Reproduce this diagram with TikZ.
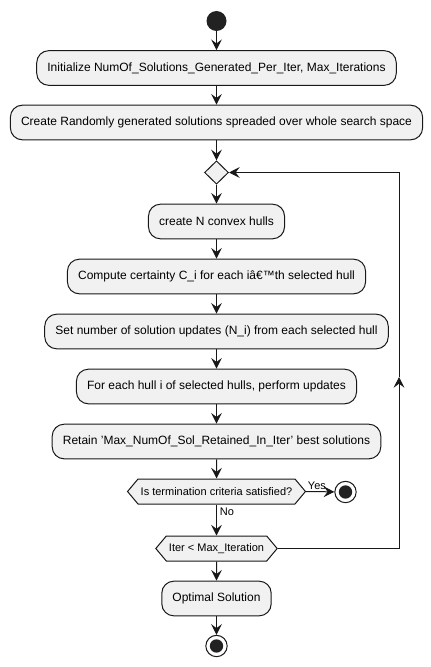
\documentclass[tikz,border=0pt]{standalone}
\usepackage{fontspec}
\setmainfont{Liberation Sans}
\usetikzlibrary{shapes.geometric,shapes.symbols,arrows.meta}

\definecolor{actfill}{HTML}{F1F1F1}
\definecolor{actline}{HTML}{181818}
\definecolor{dotfill}{HTML}{222222}

\tikzset{every picture/.style={line width=0.75pt}}
\tikzset{
	act/.style={draw=actline, fill=actfill, rounded corners=9pt, minimum height=26pt, inner xsep=8pt, font=\fontsize{9}{11}\selectfont},
	hexa/.style={draw=actline, fill=actfill, signal, signal to=west and east, signal pointer angle=100, minimum height=18.75pt, inner xsep=2pt, inner ysep=1pt, font=\fontsize{8.25}{10}\selectfont},
	merge/.style={draw=actline, fill=actfill, diamond, inner sep=0pt, minimum width=18pt, minimum height=17.5pt},
	startdot/.style={circle, fill=dotfill, inner sep=0pt, minimum size=15pt},
	stopdot/.style={circle, draw=actline, fill=white, inner sep=0pt, minimum size=16pt, path picture={\fill[dotfill] (path picture bounding box.center) circle (5pt);}},
	flow/.style={draw=actline, -{Stealth[length=8pt, width=8pt, inset=3pt]}},
	lbl/.style={font=\fontsize{8.25}{10}\selectfont, inner sep=1pt}
}

\begin{document}
\begin{tikzpicture}[x=0.75pt,y=0.75pt,yscale=-1,xscale=1]
	\useasboundingbox (0,0) rectangle (431,667);

	%Shape: Circle [start]
	\node [startdot] (start) at (216.5,21) {};
	%Shape: Rectangle [init]
	\node [act] (init) at (216.5,68) {Initialize NumOf\_Solutions\_Generated\_Per\_Iter, Max\_Iterations};
	%Shape: Rectangle [rand]
	\node [act] (rand) at (216.5,122.5) {Create Randomly generated solutions spreaded over whole search space};
	%Shape: Diamond [loop]
	\node [merge] (loop) at (216.5,172.5) {};
	%Shape: Rectangle [hulls]
	\node [act] (hulls) at (216.5,221.5) {create N convex hulls};
	%Shape: Rectangle [cert]
	\node [act] (cert) at (216.5,276.5) {Compute certainty C\_i for each iâ€™th selected hull};
	%Shape: Rectangle [setn]
	\node [act] (setn) at (216.5,331.5) {Set number of solution updates (N\_i) from each selected hull};
	%Shape: Rectangle [each]
	\node [act] (each) at (216.5,386.5) {For each hull i of selected hulls, perform updates};
	%Shape: Rectangle [keep]
	\node [act] (keep) at (216.5,441.5) {Retain 'Max\_NumOf\_Sol\_Retained\_In\_Iter' best solutions};
	%Shape: Hexagon [term]
	\node [hexa] (term) at (216.5,491.5) {Is termination criteria satisfied?};
	%Shape: Circle [stop1]
	\node [stopdot] (stop1) at (345.5,492) {};
	%Shape: Hexagon [iter]
	\node [hexa] (iter) at (216.5,548.5) {Iter < Max\_Iteration};
	%Shape: Rectangle [best]
	\node [act] (best) at (216.5,598.5) {Optimal Solution};
	%Shape: Circle [stop2]
	\node [stopdot] (stop2) at (216.5,646) {};

	%Loop back corners
	\coordinate (backR) at (399,548.5);
	\coordinate (backM) at (399,377);
	\coordinate (backT) at (399,172.5);

	%Straight Lines
	\draw [flow] (start) -- (init);
	\draw [flow] (init) -- (rand);
	\draw [flow] (rand) -- (loop);
	\draw [flow] (loop) -- (hulls);
	\draw [flow] (hulls) -- (cert);
	\draw [flow] (cert) -- (setn);
	\draw [flow] (setn) -- (each);
	\draw [flow] (each) -- (keep);
	\draw [flow] (keep) -- (term);
	\draw [flow] (term.east) -- (stop1);
	\draw [flow] (term.south) -- (iter.north);
	\draw [flow] (iter) -- (best);
	\draw [flow] (best) -- (stop2);
	%Loop back line
	\draw [draw=actline] (iter.east) -- (backR);
	\draw [flow] (backR) -- (backM);
	\draw [flow] (backM) -- (backT) -- (loop.east);

	% Text Node
	\node [lbl, anchor=south west] (yes) at (term.east) {Yes};
	% Text Node
	\node [lbl, anchor=west] (no) at (218,512) {No};

\end{tikzpicture}
\end{document}
